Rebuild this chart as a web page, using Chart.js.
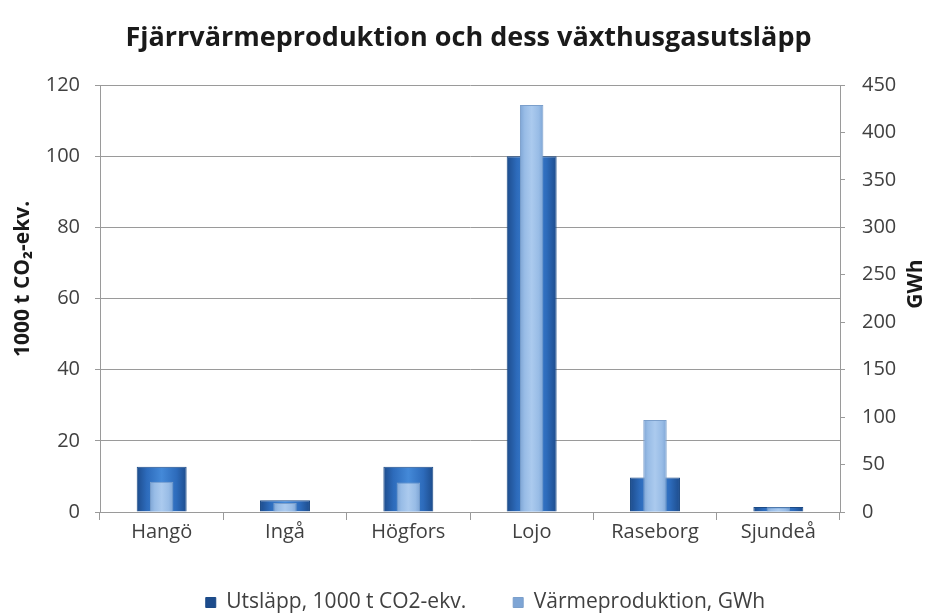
<!DOCTYPE html>
<html>
<head>
<meta charset="utf-8">
<script src="https://cdn.jsdelivr.net/npm/chart.js@4/dist/chart.umd.min.js"></script>
<style>
  html, body { margin: 0; padding: 0; background: #fff; }
  #wrap { width: 937px; height: 614px; }
</style>
</head>
<body>
<div id="wrap"><canvas id="chart"></canvas></div>
<script>
// data
const categories = ['Hangö', 'Ingå', 'Högfors', 'Lojo', 'Raseborg', 'Sjundeå'];
const utslapp = [12.7, 3.3, 12.7, 100, 9.7, 1.4];       // 1000 t CO2-ekv. (left axis)
const varmeproduktion = [32, 9.5, 31, 429, 97, 5];     // GWh (right axis)
const leftTicks = [0, 20, 40, 60, 80, 100, 120];
const rightTicks = [0, 50, 100, 150, 200, 250, 300, 350, 400, 450];

const SANS = '"Open Sans", sans-serif';
const DARK_PCT = 0.405;
const LIGHT_PCT = 0.19;
const AXIS_GREY = '#9a9a9a';

// horizontal gradient across each bar, gives the bevelled look
function barGradient(pct, stops) {
  return function (ctx) {
    const chart = ctx.chart;
    const xs = chart.scales.x;
    if (ctx.type !== 'data' || !xs) return stops[2];
    const cx = xs.getPixelForValue(ctx.dataIndex);
    const w = xs.width / categories.length * pct;
    if (!isFinite(cx) || !isFinite(w) || w <= 0) return stops[2];
    const g = chart.ctx.createLinearGradient(cx - w / 2, 0, cx + w / 2, 0);
    g.addColorStop(0, stops[0]);
    g.addColorStop(0.2, stops[1]);
    g.addColorStop(0.5, stops[2]);
    g.addColorStop(0.8, stops[1]);
    g.addColorStop(1, stops[0]);
    return g;
  };
}

// both axis titles read bottom-to-top, drawn by hand so they sit where the original has them
const axisTitles = {
  id: 'axisTitles',
  afterLayout(chart) {
    // legend in the original sits a little right of centre
    if (chart.legend) {
      chart.legend.left += 17;
      chart.legend.right += 17;
    }
  },
  afterDraw(chart) {
    const ctx = chart.ctx;
    const put = (text, x, y) => {
      ctx.save();
      ctx.translate(x, y);
      ctx.rotate(-Math.PI / 2);
      ctx.font = 'bold 21px ' + SANS;
      ctx.fillStyle = '#1a1a1a';
      ctx.textAlign = 'center';
      ctx.textBaseline = 'middle';
      ctx.fillText(text, 0, 0);
      ctx.restore();
    };
    put('1000 t CO₂-ekv.', 23, 279);
    put('GWh', 916, 284);
  }
};

new Chart(document.getElementById('chart'), {
  type: 'bar',
  data: {
    labels: categories,
    datasets: [{
      label: 'Utsläpp, 1000 t CO2-ekv.',
      data: utslapp,
      yAxisID: 'y',
      order: 2,
      grouped: false,
      categoryPercentage: 1,
      barPercentage: DARK_PCT,
      backgroundColor: barGradient(DARK_PCT, ['#1d4c8c', '#2d6bbb', '#4489d8']),
      borderColor: '#1b4a86',
      borderWidth: 1
    }, {
      label: 'Värmeproduktion, GWh',
      data: varmeproduktion,
      yAxisID: 'y1',
      order: 1,
      grouped: false,
      categoryPercentage: 1,
      barPercentage: LIGHT_PCT,
      backgroundColor: barGradient(LIGHT_PCT, ['#7ea5d5', '#98bce6', '#abcaee']),
      borderColor: '#7b9fcb',
      borderWidth: 1
    }]
  },
  plugins: [axisTitles],
  options: {
    responsive: true,
    maintainAspectRatio: false,
    animation: false,
    layout: { padding: { left: 0, right: 0, top: 0, bottom: -9 } },
    plugins: {
      title: {
        display: true,
        text: 'Fjärrvärmeproduktion och dess växthusgasutsläpp',
        color: '#1a1a1a',
        font: { family: SANS, size: 27, weight: 'bold' },
        padding: { top: 22, bottom: 30.6 }
      },
      legend: {
        position: 'bottom',
        labels: {
          color: '#404040',
          font: { family: SANS, size: 21 },
          boxWidth: 10,
          boxHeight: 10,
          padding: 47,
          sort: (a, b) => a.datasetIndex - b.datasetIndex
        }
      },
      tooltip: { enabled: false }
    },
    scales: {
      x: {
        offset: true,
        grid: { offset: true, drawOnChartArea: false, color: AXIS_GREY, tickLength: 8 },
        border: { color: AXIS_GREY },
        ticks: { color: '#404040', font: { family: SANS, size: 20 }, padding: 0 },
        afterFit: s => { s.height = 33; }
      },
      y: {
        position: 'left',
        min: 0, max: 120,
        afterBuildTicks: s => { s.ticks = leftTicks.map(v => ({ value: v })); },
        grid: { color: AXIS_GREY, tickLength: 5 },
        border: { color: AXIS_GREY },
        ticks: { color: '#404040', font: { family: SANS, size: 20 }, padding: 15 },
        afterFit: s => { s.width = 100; }
      },
      y1: {
        position: 'right',
        min: 0, max: 450,
        afterBuildTicks: s => { s.ticks = rightTicks.map(v => ({ value: v })); },
        grid: { drawOnChartArea: false, color: AXIS_GREY, tickLength: 5 },
        border: { color: AXIS_GREY },
        ticks: { color: '#404040', font: { family: SANS, size: 20 }, padding: 17 },
        afterFit: s => { s.width = 97; }
      }
    }
  }
});
</script>
</body>
</html>
